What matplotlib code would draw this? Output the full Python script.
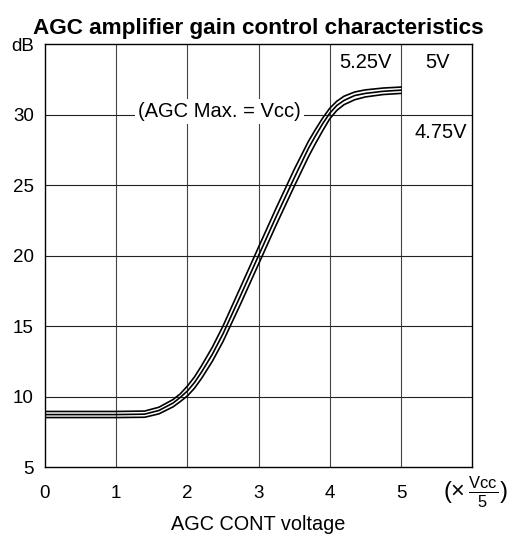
import matplotlib
matplotlib.use('Agg')
import matplotlib.pyplot as plt
import numpy as np

plt.rcParams['font.family'] = ['Liberation Sans', 'DejaVu Sans']
plt.rcParams['mathtext.fontset'] = 'custom'
plt.rcParams['mathtext.rm'] = 'Liberation Sans'

# gain vs control voltage
x = [0, 1.0, 1.4, 1.6, 1.8, 1.9, 2.0, 2.1, 2.2, 2.35, 2.5, 2.75, 3.0, 3.25, 3.5, 3.7, 3.8, 3.9, 4.0, 4.1, 4.2, 4.35, 4.5, 4.75, 5.0]
gain_525 = [8.95, 8.95, 8.98, 9.25, 9.8, 10.2, 10.75, 11.4, 12.2, 13.5, 15.0, 17.8, 20.6, 23.4, 26.1, 28.1, 28.95, 29.75, 30.45, 30.95, 31.3, 31.6, 31.75, 31.88, 31.95]
gain_500 = [8.73, 8.73, 8.76, 9.02, 9.55, 9.95, 10.4, 11.0, 11.75, 13.0, 14.45, 17.2, 20.0, 22.8, 25.5, 27.6, 28.5, 29.35, 30.1, 30.65, 31.0, 31.35, 31.5, 31.65, 31.73]
gain_475 = [8.52, 8.52, 8.54, 8.78, 9.28, 9.65, 10.05, 10.6, 11.3, 12.5, 13.9, 16.6, 19.4, 22.2, 24.9, 27.0, 27.95, 28.85, 29.7, 30.3, 30.7, 31.05, 31.25, 31.42, 31.5]

xticks = [0, 1, 2, 3, 4, 5]
yticks = [5, 10, 15, 20, 25, 30, 35]
ytick_labels = ['5', '10', '15', '20', '25', '30', 'dB']

fig = plt.figure(figsize=(5.11, 5.37), dpi=100)
ax = fig.add_axes([0.088, 0.130, 0.836, 0.788])

for g in (gain_525, gain_500, gain_475):
    ax.plot(x, g, color='black', lw=1.2, zorder=4)

# grid
for v in [1, 2, 3, 4, 5]:
    ax.axvline(v, color='#444444', lw=0.8, zorder=1)
for h in [10, 15, 20, 25, 30]:
    ax.axhline(h, color='#222222', lw=0.8, zorder=1)

ax.set_xlim(0, 6)
ax.set_ylim(5, 35)
ax.set_xticks(xticks)
ax.set_yticks(yticks)
ax.set_yticklabels(ytick_labels)
ax.tick_params(length=0, labelsize=13.5, pad=8)
ax.tick_params(axis='x', pad=13)
for s in ax.spines.values():
    s.set_linewidth(1.0)

box = dict(facecolor='white', edgecolor='none', pad=2)
ax.text(2.45, 30.2, '(AGC Max. = Vcc)', ha='center', va='center', fontsize=14.5, bbox=box, zorder=3)
ax.text(4.5, 33.7, '5.25V', ha='center', va='center', fontsize=14.5, bbox=box, zorder=3)
ax.text(5.52, 33.7, '5V', ha='center', va='center', fontsize=14.5, bbox=box, zorder=3)
ax.text(5.56, 28.7, '4.75V', ha='center', va='center', fontsize=14.5, bbox=box, zorder=3)

ax.set_title('AGC amplifier gain control characteristics', fontsize=16.2, fontweight='bold', pad=7)
ax.set_xlabel('AGC CONT voltage', fontsize=14.3, labelpad=9)
fig.text(0.93, 0.084, r'$(\times\,\frac{\mathrm{Vcc}}{5})$', fontsize=17, ha='center', va='center')

fig.savefig('out.png', dpi=100)
